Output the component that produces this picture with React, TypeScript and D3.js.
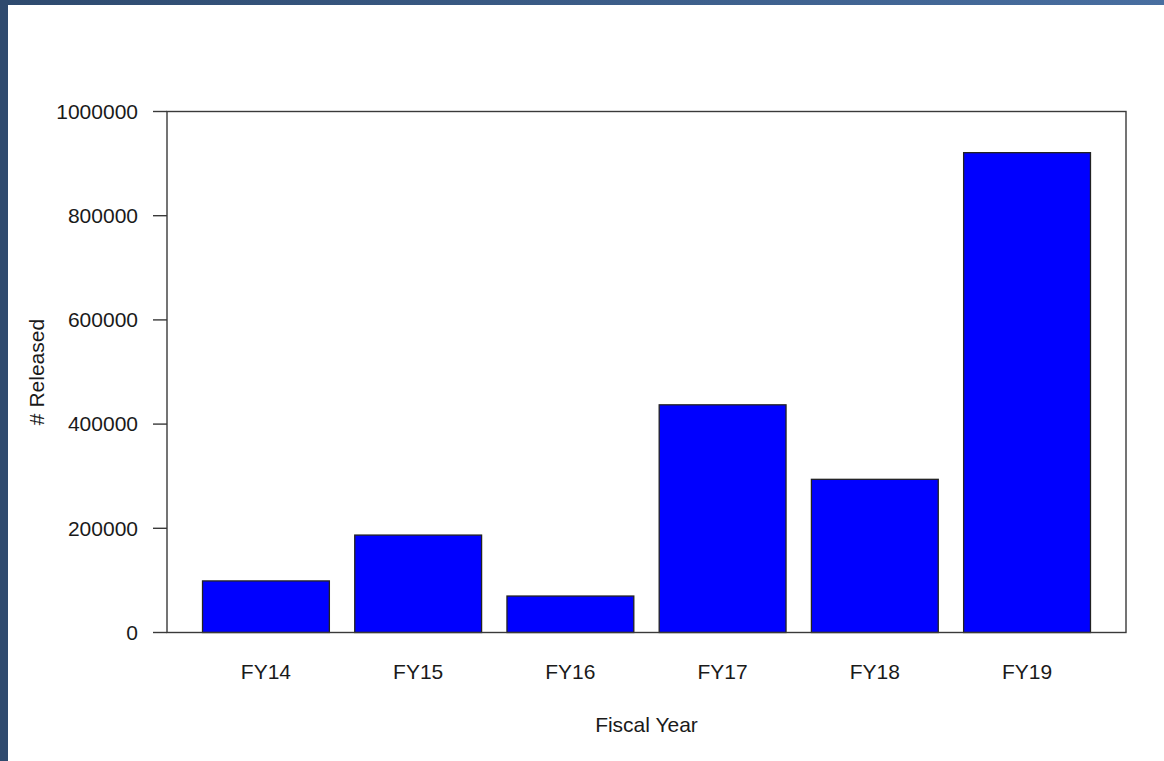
import * as d3 from 'd3'
import { useEffect } from 'react'

const categories = ['FY14', 'FY15', 'FY16', 'FY17', 'FY18', 'FY19']
const released = [99000, 187000, 70000, 437000, 294000, 921000]
const yDomain = [0, 1000000]

const W = 1164
const H = 761
const plot = { left: 167, top: 111.5, right: 1126, bottom: 632.5 }
const FONT = '"Liberation Sans", Arial, sans-serif'
const TEXT = '#1a1a1a'
const LINE = '#3a3a3a'

export default function App(): JSX.Element {
  useEffect(() => {
    document.body.style.margin = '0'
  }, [])

  // barplot-like layout: bars of width 1, space 0.2, xlim padded 4%
  const units = d3.scaleLinear().domain([-0.08, 7.48]).range([plot.left, plot.right])
  const x = d3
    .scaleBand<string>()
    .domain(categories)
    .range([units(0.2), units(7.2)])
    .paddingInner(1 / 6)
    .paddingOuter(0)
  const y = d3.scaleLinear().domain(yDomain).range([plot.bottom, plot.top])
  const yTicks = y.ticks(5)
  const fmt = d3.format('d')

  return (
    <svg width={W} height={H} style={{ display: 'block', position: 'absolute', left: 0, top: 0 }}>
      <defs>
        <linearGradient id="topbar" x1="0" x2="1" y1="0" y2="0">
          <stop offset="0%" stopColor="#2e4a6e" />
          <stop offset="100%" stopColor="#486ea0" />
        </linearGradient>
      </defs>
      <rect x={0} y={0} width={W} height={H} fill="#ffffff" />
      <rect x={0} y={0} width={W} height={5} fill="url(#topbar)" />
      <rect x={0} y={0} width={8} height={H} fill="#2f4a6e" />

      {categories.map((c, i) => (
        <rect
          key={c}
          x={x(c)}
          y={y(released[i])}
          width={x.bandwidth()}
          height={y(0) - y(released[i])}
          fill="#0000ff"
          stroke="#222"
          strokeWidth={1.3}
        />
      ))}

      <rect
        x={plot.left}
        y={plot.top}
        width={plot.right - plot.left}
        height={plot.bottom - plot.top}
        fill="none"
        stroke={LINE}
        strokeWidth={1.4}
      />

      {yTicks.map((t) => (
        <g key={t}>
          <line x1={plot.left - 14} x2={plot.left} y1={y(t)} y2={y(t)} stroke={LINE} strokeWidth={1.4} />
          <text
            x={plot.left - 29}
            y={y(t)}
            dy="0.35em"
            textAnchor="end"
            fontFamily={FONT}
            fontSize={21}
            fill={TEXT}
          >
            {fmt(t)}
          </text>
        </g>
      ))}

      {categories.map((c) => (
        <text
          key={c}
          x={(x(c) ?? 0) + x.bandwidth() / 2}
          y={679}
          textAnchor="middle"
          fontFamily={FONT}
          fontSize={21}
          fill={TEXT}
        >
          {c}
        </text>
      ))}

      <text
        x={(plot.left + plot.right) / 2}
        y={731.5}
        textAnchor="middle"
        fontFamily={FONT}
        fontSize={21}
        fill={TEXT}
      >
        Fiscal Year
      </text>
      <text
        transform={`translate(44,${(plot.top + plot.bottom) / 2}) rotate(-90)`}
        textAnchor="middle"
        fontFamily={FONT}
        fontSize={21}
        fill={TEXT}
      >
        # Released
      </text>
    </svg>
  )
}
